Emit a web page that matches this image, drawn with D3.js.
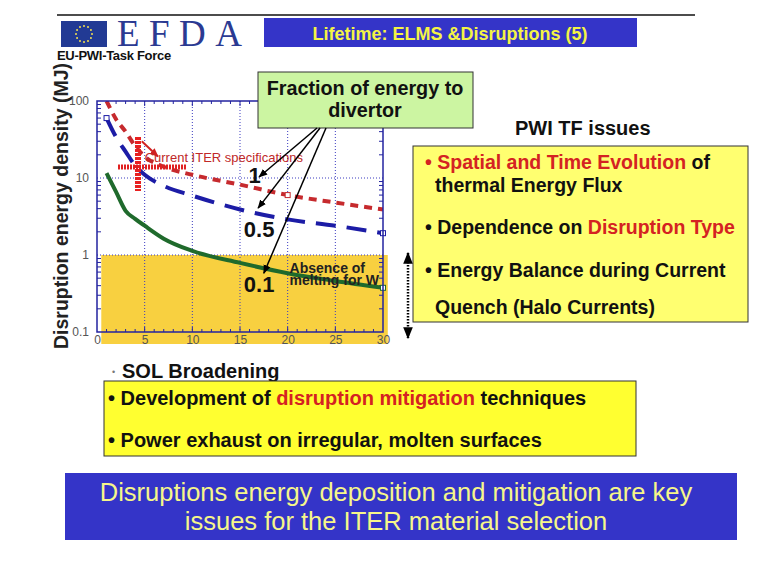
<!DOCTYPE html>
<html><head><meta charset="utf-8">
<script src="https://cdn.jsdelivr.net/npm/d3@7"></script>
<style>body{margin:0;background:#fff}svg{display:block}text{font-family:"Liberation Sans",Arial,sans-serif}</style>
</head><body><svg id="c" width="780" height="570"></svg>
<script>
// ---- data ----
const xValues = [1, 2, 3, 4, 5, 7, 10, 15, 20, 25, 30];
const fraction1 = [100, 58, 40, 26, 19, 14, 11, 8.2, 6.0, 4.8, 3.9];
const fraction05 = [60, 34, 22, 14.5, 11, 7.9, 5.9, 3.9, 2.9, 2.4, 1.92];
const fraction01 = [11.6, 6.6, 3.75, 2.95, 2.4, 1.63, 1.13, 0.79, 0.58, 0.46, 0.375];
const xTicks = [0, 5, 10, 15, 20, 25, 30];
const yTicks = [0.1, 1, 10, 100];
const yTickLabels = ["0.1", "1", "10", "100"];
const meltLimit = 1;              // absence of melting for W
const iterSpecX = [2.2, 9.4];     // horizontal range
const iterSpecY = [6.8, 34];      // vertical range
const iterSpecCenter = [4.3, 13.9];
const fractionLabels = ["1", "0.5", "0.1"];
const fractionLabelPos = [[15.9, 11.0], [15.4, 2.16], [15.4, 0.415]];
const arrowTargets = [[17.0, 10.3], [16.9, 4.06], [17.5, 0.58]];

const svg = d3.select("#c");
const x = d3.scaleLinear().domain([0, 30]).range([97, 383]);
const y = d3.scaleLog().domain([0.1, 100]).range([332, 101]);

const defs = svg.append("defs");
defs.append("clipPath").attr("id", "plotclip").append("rect")
  .attr("x", x(0)).attr("y", y(100)).attr("width", x(30) - x(0)).attr("height", y(0.1) - y(100));
function marker(id, color, size) {
  defs.append("marker").attr("id", id).attr("viewBox", "0 0 10 10").attr("refX", 9).attr("refY", 5)
    .attr("markerWidth", size).attr("markerHeight", size).attr("orient", "auto-start-reverse")
    .attr("markerUnits", "userSpaceOnUse")
    .append("path").attr("d", "M0,1 L10,5 L0,9 z").attr("fill", color);
}
marker("ab", "#000", 9);
marker("ar", "#d02020", 9);
marker("ad", "#000", 12);

// ---- header ----
svg.append("line").attr("x1", 57).attr("x2", 695).attr("y1", 15).attr("y2", 15).attr("stroke", "#111").attr("stroke-width", 1.5);
svg.append("rect").attr("x", 61).attr("y", 21).attr("width", 46).attr("height", 26).attr("fill", "#223a94");
for (let i = 0; i < 12; i++) {
  const a = i / 12 * 2 * Math.PI;
  svg.append("circle").attr("cx", 84 + 8 * Math.cos(a)).attr("cy", 34 + 8 * Math.sin(a)).attr("r", 1).attr("fill", "#f5e050");
}
svg.append("text").attr("x", 117).attr("y", 46).attr("textLength", 125).attr("lengthAdjust", "spacing")
  .style("font-family", "'Liberation Serif','Times New Roman',serif").style("font-size", "37px").attr("fill", "#2b3a92").text("EFDA");
svg.append("rect").attr("x", 264).attr("y", 18).attr("width", 373).attr("height", 29).attr("fill", "#3434c8");
svg.append("text").attr("x", 450).attr("y", 39.5).attr("text-anchor", "middle").style("font-size", "18px").style("font-weight", "bold")
  .attr("fill", "#f4f444").text("Lifetime: ELMS &Disruptions (5)");
svg.append("text").attr("x", 57).attr("y", 60).style("font-size", "13px").style("font-weight", "bold").attr("letter-spacing", "-0.3")
  .attr("fill", "#111").text("EU-PWI-Task Force");

// ---- plot ----
svg.append("rect").attr("x", x(0.45)).attr("y", y(meltLimit)).attr("width", x(30.5) - x(0.45)).attr("height", y(0.1) + 12 - y(meltLimit))
  .attr("fill", "#f8d040");
const grid = svg.append("g").attr("stroke", "#3a3ac0").attr("stroke-width", 1).attr("stroke-dasharray", "1,2");
xTicks.filter(t => t > 0 && t < 30).forEach(t => grid.append("line").attr("x1", x(t)).attr("x2", x(t)).attr("y1", y(100)).attr("y2", y(0.1)));
[1, 10].forEach(t => grid.append("line").attr("x1", x(0)).attr("x2", x(30)).attr("y1", y(t)).attr("y2", y(t)));

// minor ticks
const ticksG = svg.append("g").attr("stroke", "#2323a0").attr("stroke-width", 1);
[0.1, 1, 10].forEach(d => { for (let k = 2; k <= 9; k++) {
  const v = d * k;
  ticksG.append("line").attr("x1", x(0)).attr("x2", x(0) + 4).attr("y1", y(v)).attr("y2", y(v));
  ticksG.append("line").attr("x1", x(30)).attr("x2", x(30) - 4).attr("y1", y(v)).attr("y2", y(v));
}});
for (let t = 1; t < 30; t++) {
  const L = t % 5 === 0 ? 5 : 3;
  ticksG.append("line").attr("x1", x(t)).attr("x2", x(t)).attr("y1", y(100)).attr("y2", y(100) + L);
  ticksG.append("line").attr("x1", x(t)).attr("x2", x(t)).attr("y1", y(0.1)).attr("y2", y(0.1) - L);
}

// axes labels
const yAxis = d3.axisLeft(y).tickValues(yTicks).tickFormat((d, i) => yTickLabels[i]).tickSize(0).tickPadding(8);
const ga = svg.append("g").attr("transform", `translate(${x(0)},0)`).call(yAxis);
ga.select(".domain").remove();
ga.selectAll("text").style("font-size", "12px").attr("fill", "#555").style("font-family", "'Liberation Sans',Arial,sans-serif");
const xAxis = d3.axisBottom(x).tickValues(xTicks).tickSize(0).tickPadding(3);
const gx = svg.append("g").attr("transform", `translate(0,${y(0.1)})`).call(xAxis);
gx.select(".domain").remove();
gx.selectAll("text").style("font-size", "12px").attr("fill", "#555").style("font-family", "'Liberation Sans',Arial,sans-serif");

svg.append("text").attr("transform", `translate(68,206) rotate(-90)`).attr("text-anchor", "middle")
  .style("font-size", "19.5px").style("font-weight", "bold").attr("fill", "#222").text("Disruption energy density (MJ)");

// curves
const plot = svg.append("g").attr("clip-path", "url(#plotclip)");
const line = d3.line().x(d => x(d[0])).y(d => y(d[1])).curve(d3.curveMonotoneX);
const series = [
  {vals: fraction1, color: "#c62a2e", dash: "8,6"},
  {vals: fraction05, color: "#1c1ca6", dash: "20,11"},
  {vals: fraction01, color: "#1f6a2c", dash: null}
];
series.forEach(s => {
  plot.append("path").datum(xValues.map((v, i) => [v, s.vals[i]])).attr("d", line)
    .attr("fill", "none").attr("stroke", s.color).attr("stroke-width", 4).attr("stroke-dasharray", s.dash);
});
// small open markers
[[xValues[0], fraction05[0], "#1c1ca6"], [xValues[10], fraction05[10], "#1c1ca6"], [xValues[10], fraction01[10], "#1f6a2c"], [xValues[8], fraction1[8], "#c62a2e"]]
  .forEach(m => svg.append("rect").attr("x", x(m[0]) - 2.5).attr("y", y(m[1]) - 2.5).attr("width", 5).attr("height", 5)
    .attr("fill", "#fff").attr("stroke", m[2]).attr("stroke-width", 1));

// frame
svg.append("rect").attr("x", x(0)).attr("y", y(100)).attr("width", x(30) - x(0)).attr("height", y(0.1) - y(100))
  .attr("fill", "none").attr("stroke", "#2323a0").attr("stroke-width", 1.5);

// ITER spec marker
svg.append("line").attr("x1", x(iterSpecCenter[0])).attr("x2", x(iterSpecCenter[0])).attr("y1", y(iterSpecY[1])).attr("y2", y(iterSpecY[0]))
  .attr("stroke", "#e82020").attr("stroke-width", 6).attr("stroke-dasharray", "3,1");
svg.append("line").attr("x1", x(iterSpecX[0])).attr("x2", x(iterSpecX[1])).attr("y1", y(iterSpecCenter[1])).attr("y2", y(iterSpecCenter[1]))
  .attr("stroke", "#e02020").attr("stroke-width", 5).attr("stroke-dasharray", "2,1");
svg.append("line").attr("x1", x(4.7)).attr("x2", x(6.4)).attr("y1", y(30)).attr("y2", y(19))
  .attr("stroke", "#d02020").attr("stroke-width", 2).attr("marker-end", "url(#ar)");
svg.append("text").attr("x", x(5)).attr("y", 162).style("font-size", "13px").attr("fill", "#c02828").text("Current ITER specifications");

// melting label
svg.append("text").attr("x", x(20.2)).attr("y", 273).style("font-size", "14px").style("font-weight", "bold").attr("fill", "#222").text("Absence of");
svg.append("text").attr("x", x(20.2)).attr("y", 285).style("font-size", "14px").style("font-weight", "bold").attr("fill", "#222").text("melting for W");

// fraction labels
fractionLabels.forEach((t, i) => svg.append("text").attr("x", x(fractionLabelPos[i][0])).attr("y", y(fractionLabelPos[i][1]) + 8)
  .style("font-size", "22px").style("font-weight", "bold").attr("fill", "#111").text(t));

// green callout
svg.append("rect").attr("x", 258).attr("y", 72).attr("width", 215).attr("height", 56).attr("fill", "#ccf5a2").attr("stroke", "#333").attr("stroke-width", 1);
svg.append("text").attr("x", 365).attr("y", 95).attr("text-anchor", "middle").style("font-size", "19.8px").style("font-weight", "bold").attr("fill", "#111").text("Fraction of energy to");
svg.append("text").attr("x", 365).attr("y", 117).attr("text-anchor", "middle").style("font-size", "19.8px").style("font-weight", "bold").attr("fill", "#111").text("divertor");
const starts = [[317, 128], [320, 128], [326, 128]];
arrowTargets.forEach((t, i) => svg.append("line").attr("x1", starts[i][0]).attr("y1", starts[i][1]).attr("x2", x(t[0])).attr("y2", y(t[1]))
  .attr("stroke", "#000").attr("stroke-width", 1.5).attr("marker-end", "url(#ab)"));

// ---- right side ----
function rich(xp, yp, parts, fs) {
  const t = svg.append("text").attr("x", xp).attr("y", yp).style("font-size", (fs || 19.5) + "px").style("font-weight", "bold");
  parts.forEach(p => t.append("tspan").attr("fill", p[1]).text(p[0]));
}
const RED = "#d42222", BLK = "#111";
rich(515, 135, [["PWI TF issues", BLK]], 20);
svg.append("rect").attr("x", 413).attr("y", 146).attr("width", 335).attr("height", 176).attr("fill", "#ffff70").attr("stroke", "#333").attr("stroke-width", 1);
rich(425, 169, [["• ", RED], ["Spatial and Time Evolution", RED], [" of", BLK]]);
rich(435, 192, [["thermal Energy Flux", BLK]]);
rich(425, 234, [["• Dependence on ", BLK], ["Disruption Type", RED]]);
rich(425, 277, [["• Energy Balance during Current", BLK]]);
rich(435, 314, [["Quench (Halo Currents)", BLK]]);

svg.append("line").attr("x1", 408).attr("x2", 408).attr("y1", 253).attr("y2", 338).attr("stroke", "#000").attr("stroke-width", 2.5)
  .attr("stroke-dasharray", "1.5,1.5").attr("marker-start", "url(#ad)").attr("marker-end", "url(#ad)");

// ---- bottom ----
svg.append("text").attr("x", 112).attr("y", 375).style("font-size", "9px").attr("fill", "#777").text("•");
rich(122, 378, [["SOL Broadening", BLK]], 20);
svg.append("rect").attr("x", 104).attr("y", 381).attr("width", 532).attr("height", 75).attr("fill", "#ffff30").attr("stroke", "#333").attr("stroke-width", 1);
rich(108, 405, [["• Development of ", BLK], ["disruption mitigation", RED], [" techniques", BLK]], 20);
rich(108, 447, [["• Power exhaust on irregular, molten surfaces", BLK]], 20);

svg.append("rect").attr("x", 65).attr("y", 473).attr("width", 672).attr("height", 67).attr("fill", "#3434c8");
svg.append("text").attr("x", 396).attr("y", 501).attr("text-anchor", "middle").style("font-size", "25.5px").attr("fill", "#f6f68a")
  .text("Disruptions energy deposition and mitigation are key");
svg.append("text").attr("x", 396).attr("y", 530).attr("text-anchor", "middle").style("font-size", "25.5px").attr("fill", "#f6f68a")
  .text("issues for the ITER material selection");
</script></body></html>
